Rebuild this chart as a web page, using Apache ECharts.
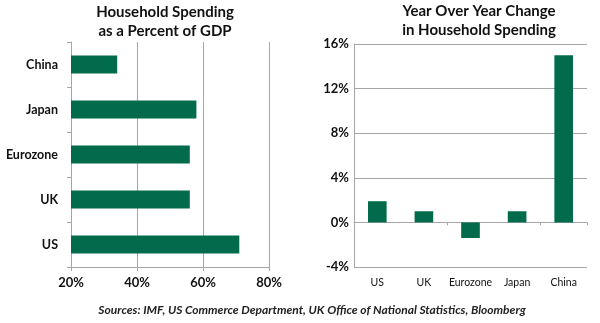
<!DOCTYPE html>
<html><head><meta charset="utf-8">
<script src="https://cdn.jsdelivr.net/npm/echarts@6/dist/echarts.min.js"></script>
<style>html,body{margin:0;padding:0;background:#fff}#c{width:600px;height:323px}</style>
</head><body><div id="c"></div>
<script>
// Left chart: household spending as % of GDP (bottom to top)
const shareCategories = ['US', 'UK', 'Eurozone', 'Japan', 'China'];
const shareValues = [71, 56, 56, 58, 34];
const shareTicks = [20, 40, 60, 80];
// Right chart: year over year change
const yoyCategories = ['US', 'UK', 'Eurozone', 'Japan', 'China'];
const yoyValues = [1.9, 1.0, -1.4, 1.0, 15.0];
const yoyTicks = [-4, 0, 4, 8, 12, 16];

const GREEN = '#026b4b';
const GRID = '#a6a6a6';
const FONT = 'Lato';
const chart = echarts.init(document.getElementById('c'));
chart.setOption({
  animation: false,
  textStyle: { fontFamily: FONT },
  title: [
    { text: 'Household Spending\nas a Percent of GDP', left: 160, top: -2, textAlign: 'center',
      textStyle: { fontFamily: FONT, fontSize: 15, fontWeight: 'bold', color: '#111', lineHeight: 19 } },
    { text: 'Year Over Year Change\nin Household Spending', left: 474, top: -3, textAlign: 'center',
      textStyle: { fontFamily: FONT, fontSize: 15, fontWeight: 'bold', color: '#111', lineHeight: 19 } },
    { text: 'Sources: IMF, US Commerce Department, UK Office of National Statistics, Bloomberg', left: 307, top: 299, textAlign: 'center',
      textStyle: { fontFamily: FONT, fontSize: 12, fontStyle: 'italic', fontWeight: 'bold', color: '#222' } }
  ],
  grid: [
    { left: 71, right: 331, top: 42, bottom: 56 },
    { left: 354, right: 13, top: 44, bottom: 56 }
  ],
  xAxis: [
    { gridIndex: 0, type: 'value', min: shareTicks[0], max: shareTicks[shareTicks.length - 1], interval: 20,
      axisLine: { show: true, lineStyle: { color: GRID } },
      axisTick: { show: true, length: 4, lineStyle: { color: GRID } },
      axisLabel: { formatter: '{value}%', color: '#111', fontSize: 13, margin: 9, fontFamily: FONT, fontWeight: 'bold' },
      splitLine: { show: true, lineStyle: { color: GRID } } },
    { gridIndex: 1, type: 'category', data: yoyCategories, position: 'bottom',
      axisLine: { show: false, onZero: false }, axisTick: { show: false },
      axisLabel: { color: '#111', fontSize: 10.5, margin: 10, fontFamily: FONT, interval: 0 } },
    { gridIndex: 1, type: 'category', data: yoyCategories, position: 'bottom',
      axisLine: { show: true, onZero: true, lineStyle: { color: GRID } },
      axisTick: { show: true, length: 3, lineStyle: { color: GRID } },
      axisLabel: { show: false } }
  ],
  yAxis: [
    { gridIndex: 0, type: 'category', data: shareCategories,
      axisLine: { show: true, lineStyle: { color: GRID } },
      axisTick: { show: true, length: 4, lineStyle: { color: GRID } },
      axisLabel: { color: '#111', fontSize: 12.5, margin: 13, fontFamily: FONT, fontWeight: 'bold' } },
    { gridIndex: 1, type: 'value', min: yoyTicks[0], max: yoyTicks[yoyTicks.length - 1], interval: 4,
      axisLine: { show: true, lineStyle: { color: GRID } },
      axisTick: { show: false },
      axisLabel: { formatter: '{value}%', color: '#111', fontSize: 13, margin: 5, fontFamily: FONT, fontWeight: 'bold' },
      splitLine: { show: true, lineStyle: { color: GRID } } }
  ],
  series: [
    { type: 'bar', xAxisIndex: 0, yAxisIndex: 0, data: shareValues, barWidth: '40%',
      itemStyle: { color: GREEN } },
    { type: 'bar', xAxisIndex: 1, yAxisIndex: 1, data: yoyValues, barWidth: '40%',
      itemStyle: { color: GREEN } }
  ]
});
</script></body></html>
